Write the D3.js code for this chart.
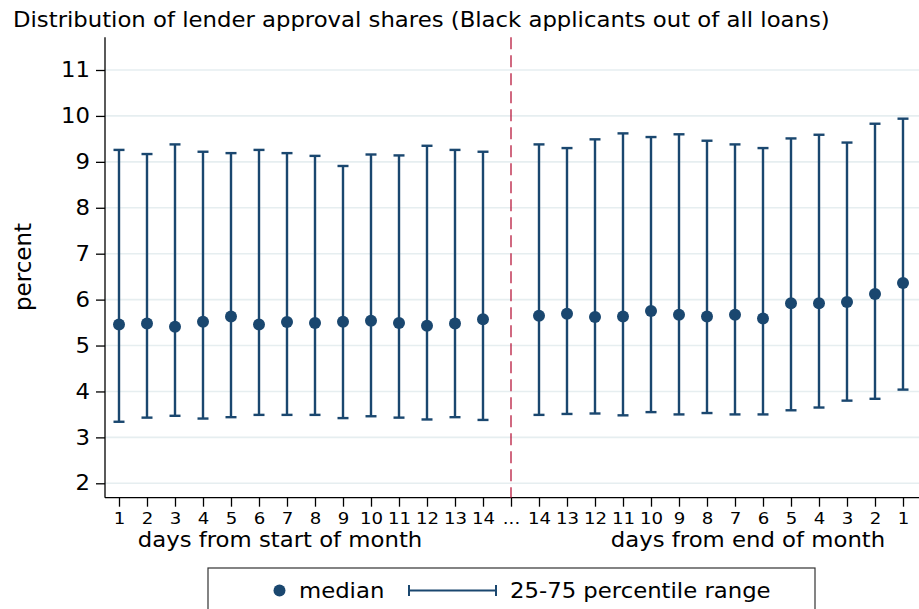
<!DOCTYPE html>
<html><head><meta charset="utf-8">
<script src="https://cdn.jsdelivr.net/npm/d3@7"></script>
<style>
body{margin:0;background:#fff}
text{font-family:"DejaVu Sans";fill:#000}
</style></head>
<body><svg id="c" width="919" height="609"></svg>
<script>
// ---- data ----
const tickLabels = ["1","2","3","4","5","6","7","8","9","10","11","12","13","14","...",
                    "14","13","12","11","10","9","8","7","6","5","4","3","2","1"];
const startP75 = [9.26, 9.17, 9.38, 9.22, 9.19, 9.26, 9.19, 9.13, 8.91, 9.16, 9.14, 9.35, 9.26, 9.22];
const startMedian = [5.46, 5.48, 5.41, 5.52, 5.63, 5.46, 5.51, 5.49, 5.52, 5.54, 5.49, 5.43, 5.48, 5.57];
const startP25 = [3.34, 3.43, 3.47, 3.41, 3.44, 3.49, 3.49, 3.49, 3.42, 3.46, 3.43, 3.39, 3.44, 3.38];
const endP75 = [9.38, 9.30, 9.49, 9.62, 9.54, 9.60, 9.46, 9.38, 9.30, 9.51, 9.59, 9.42, 9.83, 9.94];
const endMedian = [5.65, 5.69, 5.62, 5.63, 5.75, 5.67, 5.63, 5.67, 5.59, 5.92, 5.92, 5.95, 6.12, 6.36];
const endP25 = [3.49, 3.51, 3.52, 3.48, 3.55, 3.50, 3.53, 3.50, 3.50, 3.59, 3.65, 3.80, 3.84, 4.04];
const yTicks = [2,3,4,5,6,7,8,9,10,11];

const navy = "#1a476f", crimson = "#b8193d", grid = "#e6eef0";
const SX = 1.1; // horizontal text stretch

// build points (skip the "..." gap slot)
const pts = [];
startMedian.forEach((m,i)=>pts.push({k:i, med:m, lo:startP25[i], hi:startP75[i]}));
endMedian.forEach((m,i)=>pts.push({k:15+i, med:m, lo:endP25[i], hi:endP75[i]}));

const svg = d3.select("#c");
const L = 105, R = 917, T = 37.3, B = 497.7;
const x = d3.scalePoint().domain(d3.range(tickLabels.length)).range([L, R]).padding(0.5);
const y = d3.scaleLinear().domain([2, 11]).range([483.3, 70]);

function txt(px, py, str, size, anchor){
  return svg.append("text").attr("transform", `translate(${px},${py}) scale(${SX},1)`)
    .attr("font-size", size).attr("text-anchor", anchor || "start").text(str);
}

// gridlines
svg.append("g").selectAll("line").data(yTicks).join("line")
  .attr("x1", L).attr("x2", 919).attr("y1", d=>y(d)).attr("y2", d=>y(d))
  .attr("stroke", grid).attr("stroke-width", 1.6);

// y axis
const ya = svg.append("g").attr("transform", `translate(${L},0)`)
  .call(d3.axisLeft(y).tickValues(yTicks).tickSize(9).tickFormat(d3.format("d")));
ya.select(".domain").attr("d", `M0,${T}V${B}`).attr("stroke","#000").attr("stroke-width",1.3);
ya.selectAll(".tick line").attr("stroke","#000").attr("stroke-width",1.3);
ya.selectAll(".tick text").attr("font-size", 20.7).attr("font-family","DejaVu Sans").attr("fill","#000")
  .attr("x", -15/SX).attr("transform", `scale(${SX},1)`);

// x axis
const xa = svg.append("g").attr("transform", `translate(0,${B})`)
  .call(d3.axisBottom(x).tickSize(9).tickFormat(i=>tickLabels[i]));
xa.select(".domain").attr("d", `M${L},0H919`).attr("stroke","#000").attr("stroke-width",1.3);
xa.selectAll(".tick line").attr("stroke","#000").attr("stroke-width",1.3);
xa.selectAll(".tick text").attr("font-size", 16.5).attr("font-family","DejaVu Sans").attr("fill","#000")
  .attr("y", 26.6).attr("dy", null).attr("transform", `scale(${SX},1)`);

// dashed divider at "..."
svg.append("line").attr("x1", x(14)).attr("x2", x(14)).attr("y1", T).attr("y2", B)
  .attr("stroke", crimson).attr("stroke-width", 1.3).attr("stroke-dasharray", "12,6");

// error bars
const eb = svg.append("g").attr("stroke", navy).attr("stroke-width", 2.4);
eb.selectAll("line.v").data(pts).join("line").attr("class","v")
  .attr("x1", d=>x(d.k)).attr("x2", d=>x(d.k)).attr("y1", d=>y(d.hi)).attr("y2", d=>y(d.lo));
eb.selectAll("line.h").data(pts).join("line").attr("class","h")
  .attr("x1", d=>x(d.k)-5.5).attr("x2", d=>x(d.k)+5.5).attr("y1", d=>y(d.hi)).attr("y2", d=>y(d.hi));
eb.selectAll("line.l").data(pts).join("line").attr("class","l")
  .attr("x1", d=>x(d.k)-5.5).attr("x2", d=>x(d.k)+5.5).attr("y1", d=>y(d.lo)).attr("y2", d=>y(d.lo));
svg.append("g").selectAll("circle").data(pts).join("circle")
  .attr("cx", d=>x(d.k)).attr("cy", d=>y(d.med)).attr("r", 6).attr("fill", navy);

// titles
txt(13, 26.7, "Distribution of lender approval shares (Black applicants out of all loans)", 20.7);
svg.append("text").attr("transform","translate(31,267) rotate(-90)").attr("text-anchor","middle")
  .attr("font-size", 23).text("percent");
txt(280, 546.5, "days from start of month", 20.7, "middle");
txt(748, 546.5, "days from end of month", 20.7, "middle");

// legend
const lg = svg.append("g");
lg.append("rect").attr("x", 208).attr("y", 568).attr("width", 607).attr("height", 60)
  .attr("fill","#fff").attr("stroke","#333").attr("stroke-width",1.2);
lg.append("circle").attr("cx", 279.5).attr("cy", 590.5).attr("r", 6).attr("fill", navy);
txt(299, 598, "median", 20.7);
const lgE = lg.append("g").attr("stroke", navy).attr("stroke-width", 2);
lgE.append("line").attr("x1", 409).attr("x2", 496).attr("y1", 590.5).attr("y2", 590.5);
lgE.append("line").attr("x1", 409).attr("x2", 409).attr("y1", 585).attr("y2", 596);
lgE.append("line").attr("x1", 496).attr("x2", 496).attr("y1", 585).attr("y2", 596);
txt(510, 598, "25-75 percentile range", 20.7);
</script></body></html>
